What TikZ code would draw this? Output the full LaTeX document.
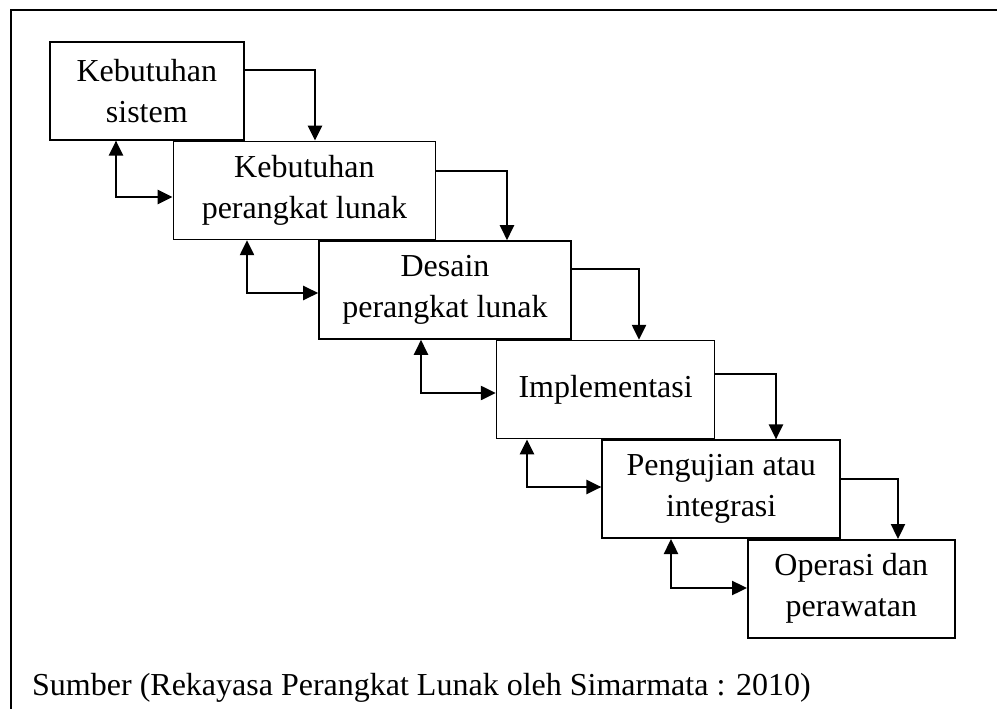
\documentclass[tikz,border=0pt]{standalone}
\usepackage{fontspec}
\setmainfont{Liberation Serif}
\usetikzlibrary{arrows.meta, positioning}
\tikzset{
	stage/.style={rectangle, draw=black, line width=1.6pt, align=center, minimum height=98pt, inner sep=0pt, font=\fontsize{32}{41}\selectfont},
	caption/.style={inner sep=0pt, font=\fontsize{32}{41}\selectfont},
	frame/.style={line width=1.6pt, draw=black},
	arrow/.style={-{Triangle[length=15pt, width=14pt]}, line width=2.4pt, draw=black},
	backarrow/.style={{Triangle[length=15pt, width=14pt]}-{Triangle[length=15pt, width=14pt]}, line width=2.4pt, draw=black},
}

\begin{document}
\begin{tikzpicture}[x=1pt, y=-1pt]
		\useasboundingbox (0,0) rectangle (997,709);
		\draw[frame] (1010,10) -| (11,720);
		\node[stage, minimum width=194pt, anchor=north west] (sistem) at (49,41) {Kebutuhan\\sistem};
		\node[stage, minimum width=262pt, below right=0pt and -72pt of sistem] (plunak) {Kebutuhan\\perangkat lunak};
		\node[stage, minimum width=252pt, below right=0pt and -118pt of plunak] (desain) {Desain\\perangkat lunak};
		\node[stage, minimum width=218pt, below right=0pt and -76pt of desain] (impl) {Implementasi};
		\node[stage, minimum width=238pt, below right=0pt and -114pt of impl] (uji) {Pengujian atau\\integrasi};
		\node[stage, minimum width=207pt, below right=0pt and -94pt of uji] (operasi) {Operasi dan\\perawatan};
		\node[caption, anchor=base west] (sumber) at (32,695) {Sumber (Rekayasa Perangkat Lunak oleh Simarmata : 2010)};
		\draw[arrow] (sistem.east |- 0,70) -| (plunak.north -| 315,0);
		\draw[arrow] (plunak.east |- 0,171) -| (desain.north -| 507,0);
		\draw[arrow] (desain.east |- 0,269) -| (impl.north -| 639,0);
		\draw[arrow] (impl.east |- 0,374) -| (uji.north -| 776,0);
		\draw[arrow] (uji.east |- 0,479) -| (operasi.north -| 898,0);
		\draw[backarrow] (sistem.south -| 116,0) |- (plunak.west |- 0,197);
		\draw[backarrow] (plunak.south -| 247,0) |- (desain.west |- 0,293);
		\draw[backarrow] (desain.south -| 421,0) |- (impl.west |- 0,393);
		\draw[backarrow] (impl.south -| 527,0) |- (uji.west |- 0,487);
		\draw[backarrow] (uji.south -| 671,0) |- (operasi.west |- 0,588);
	\end{tikzpicture}
\end{document}
